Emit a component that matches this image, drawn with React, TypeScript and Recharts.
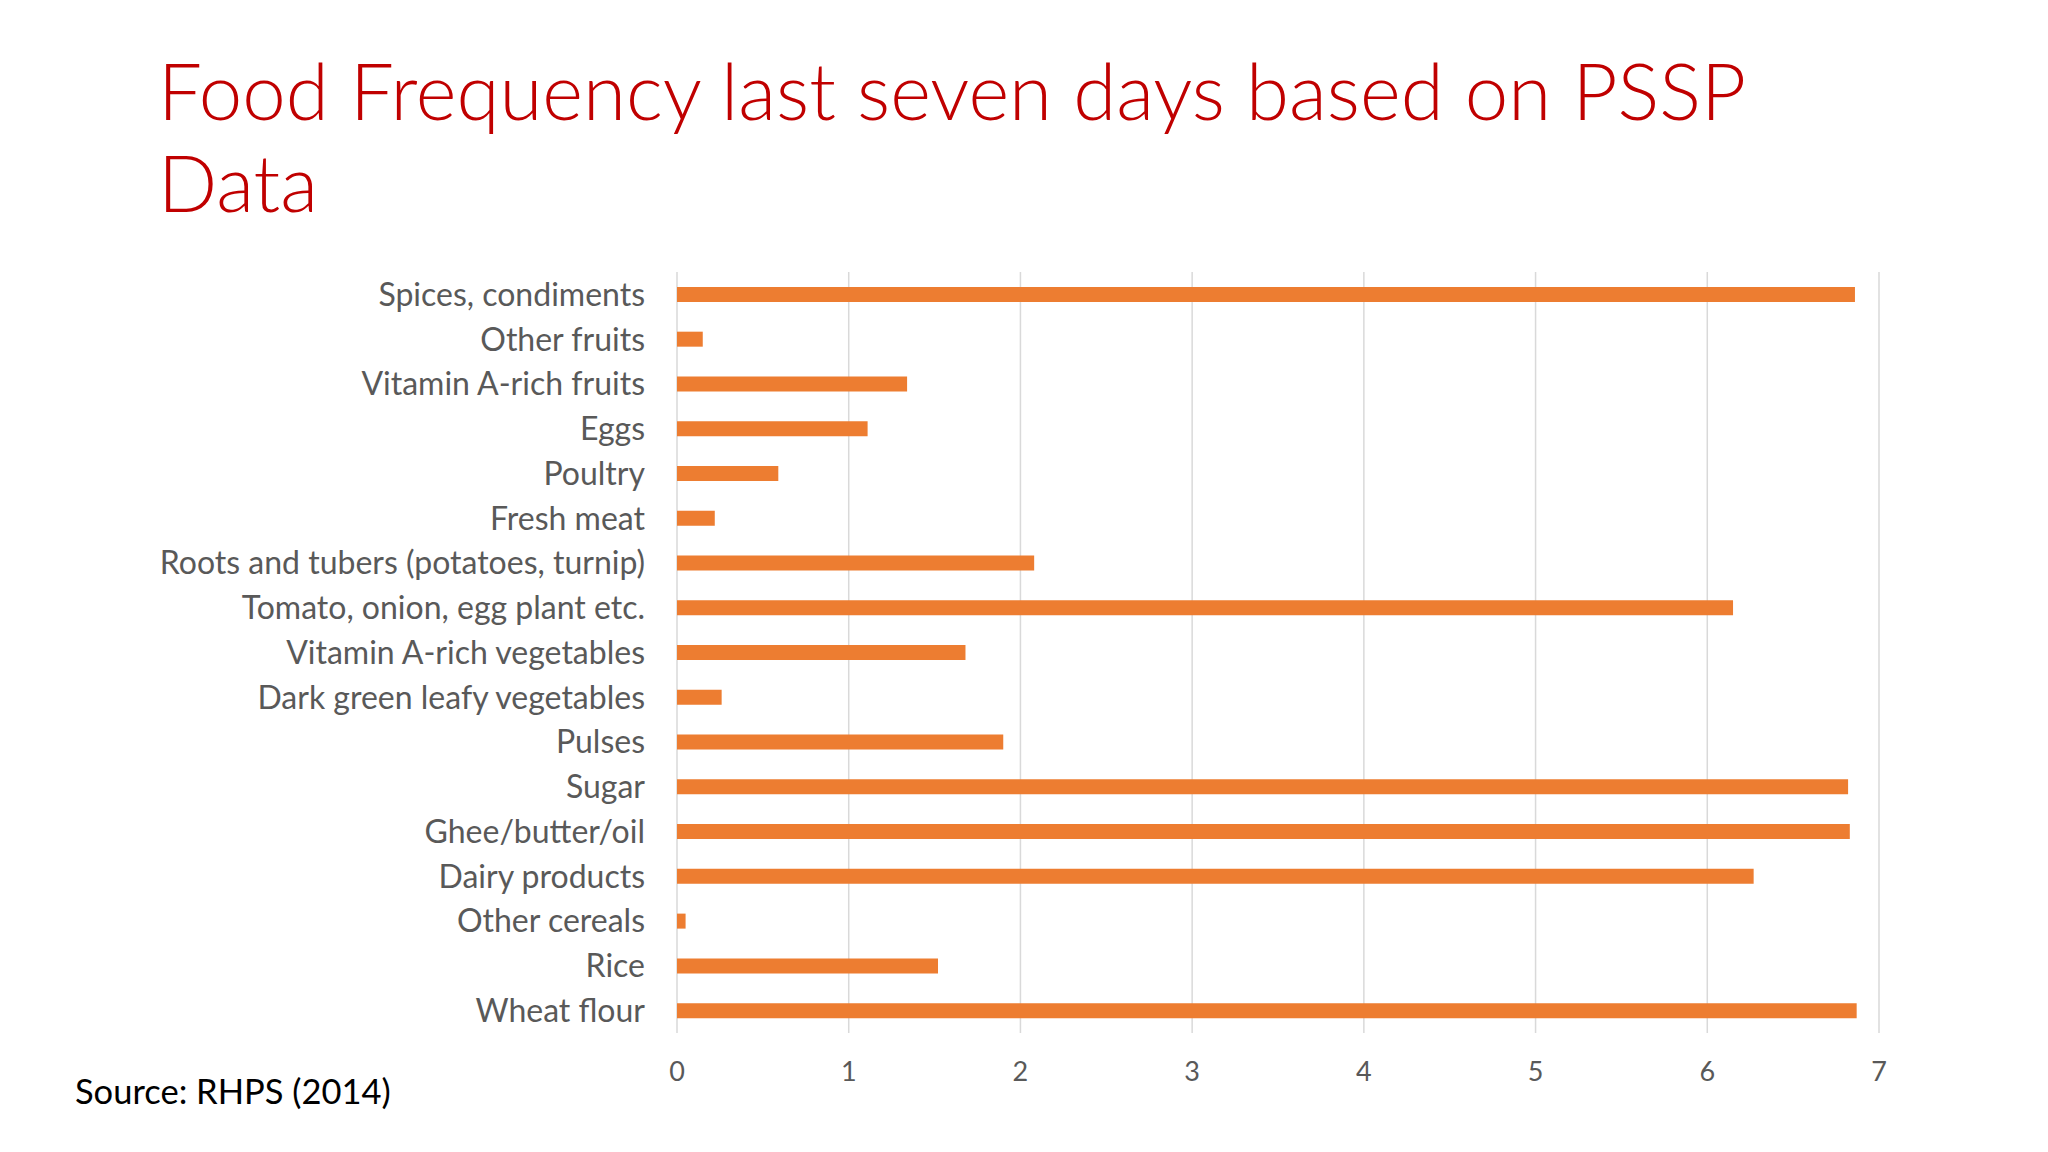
import React from 'react';
import { BarChart, Bar, XAxis, YAxis, CartesianGrid } from 'recharts';

// Excel order: first item sits at the bottom of the chart
const categories = [
    'Wheat flour',
    'Rice',
    'Other cereals',
    'Dairy products',
    'Ghee/butter/oil',
    'Sugar',
    'Pulses',
    'Dark green leafy vegetables',
    'Vitamin A-rich vegetables',
    'Tomato, onion, egg plant etc.',
    'Roots and tubers (potatoes, turnip)',
    'Fresh meat',
    'Poultry',
    'Eggs',
    'Vitamin A-rich fruits',
    'Other fruits',
    'Spices, condiments',
];

const daysPerWeek = [6.87, 1.52, 0.05, 6.27, 6.83, 6.82, 1.9, 0.26, 1.68, 6.15, 2.08, 0.22, 0.59, 1.11, 1.34, 0.15, 6.86];

const xTicks = [0, 1, 2, 3, 4, 5, 6, 7];

const titleLines = ['Food Frequency last seven days based on PSSP', 'Data'];
const sourceNote = 'Source: RHPS (2014)';

const BAR_COLOR = '#ED7D31';
const LABEL_COLOR = '#595959';
const GRID_COLOR = '#D9D9D9';
const FONT = 'Lato, "Open Sans", sans-serif';

const data = categories.map((name, i) => ({ name, value: daysPerWeek[i] }));

export default function App() {
    return (
        <div style={{ position: 'absolute', left: 0, top: 0, width: 2048, height: 1152, background: '#fff' }}>
            <svg width={2048} height={1152} style={{ position: 'absolute', left: 0, top: 0 }}>
                {titleLines.map((line, i) => (
                    <text
                        key={line}
                        x={158}
                        y={120 + i * 92}
                        fill="#C00000"
                        fontFamily={FONT}
                        fontWeight={300}
                        fontSize={78}
                    >
                        {line}
                    </text>
                ))}
                <text x={75} y={1104} fill="#000" fontFamily={FONT} fontSize={34.5}>
                    {sourceNote}
                </text>
            </svg>
            <div style={{ position: 'absolute', left: 0, top: 0 }}>
                <BarChart
                    width={2048}
                    height={1152}
                    data={data}
                    layout="vertical"
                    barCategoryGap="33.3%"
                    margin={{ top: 272, right: 169, bottom: 89, left: 0 }}
                >
                    <CartesianGrid horizontal={false} stroke={GRID_COLOR} strokeWidth={1.5} />
                    <XAxis
                        type="number"
                        domain={[0, 7]}
                        ticks={xTicks}
                        height={30}
                        axisLine={false}
                        tickLine={false}
                        tickSize={0}
                        tickMargin={29}
                        tick={{ fill: LABEL_COLOR, fontSize: 27, fontFamily: FONT }}
                    />
                    <YAxis
                        type="category"
                        dataKey="name"
                        reversed
                        width={677}
                        axisLine={false}
                        tickLine={false}
                        tickSize={0}
                        tickMargin={32}
                        interval={0}
                        tick={{ fill: LABEL_COLOR, fontSize: 32, fontFamily: FONT }}
                    />
                    <Bar dataKey="value" fill={BAR_COLOR} isAnimationActive={false} />
                </BarChart>
            </div>
        </div>
    );
}
